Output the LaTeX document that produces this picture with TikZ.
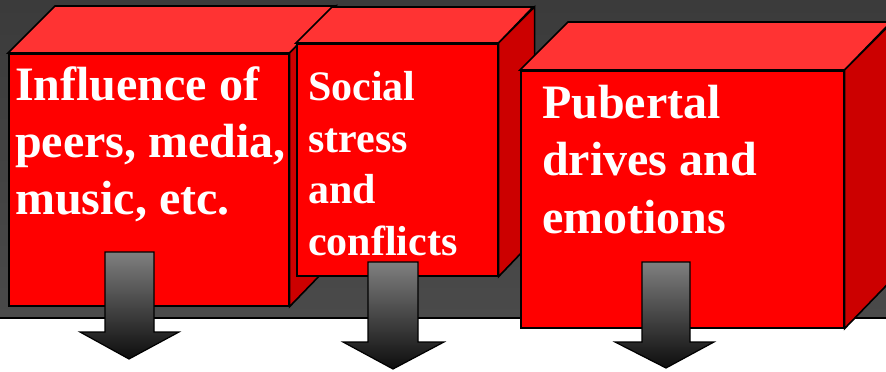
\documentclass[tikz,border=0pt]{standalone}
\usepackage{fontspec}
\setmainfont{Liberation Serif}
\begin{document}
\begin{tikzpicture}[x=1pt,y=-1pt,
  front/.style={draw=black, line width=1.6pt, fill=red, inner sep=0pt, anchor=north west},
  topface/.style={draw=black, line width=1.6pt, fill={rgb,255:red,255;green,51;blue,51}, line join=miter},
  sideface/.style={draw=black, line width=1.6pt, fill={rgb,255:red,204;green,0;blue,0}, line join=miter},
  caption/.style={text=white, inner sep=0pt, anchor=north west, align=left},
  downarrow/.style={draw=black, line width=1.2pt, top color=black!50, bottom color=black!95}]
\useasboundingbox (0,0) rectangle (886,372);
% dark backdrop
\shade[top color=black!77, bottom color=black!71, draw=black, line width=1.6pt] (-5,-5) rectangle (891,318);

% first box
\node[front, minimum width=280pt, minimum height=252pt] (infl) at (8,53) {};
\draw[topface] (infl.north west) -- ++(47,-47) -- ++(280,0) -- (infl.north east) -- cycle;
\draw[sideface] (infl.north east) -- ++(47,-47) -- ++(0,252) -- (infl.south east) -- cycle;
\node[caption, font=\fontsize{48}{57}\selectfont\bfseries] (infltxt) at ([shift={(7,14)}]infl.north west) {Influence of\\peers, media,\\music, etc.};

% second box
\node[front, minimum width=201pt, minimum height=232pt] (stress) at (296,43) {};
\draw[topface] (stress.north west) -- ++(36,-36) -- ++(201,0) -- (stress.north east) -- cycle;
\draw[sideface] (stress.north east) -- ++(36,-36) -- ++(0,232) -- (stress.south east) -- cycle;
\node[caption, font=\fontsize{42}{51.5}\selectfont\bfseries] (stresstxt) at ([shift={(12,28.5)}]stress.north west) {Social\\stress\\and\\conflicts};

% third box
\node[front, minimum width=323pt, minimum height=257pt] (pub) at (520,70) {};
\draw[topface] (pub.north west) -- ++(48,-48) -- ++(323,0) -- (pub.north east) -- cycle;
\draw[sideface] (pub.north east) -- ++(48,-48) -- ++(0,257) -- (pub.south east) -- cycle;
\node[caption, font=\fontsize{48}{57.5}\selectfont\bfseries] (pubtxt) at ([shift={(22,14.5)}]pub.north west) {Pubertal\\drives and\\emotions};

% block arrows
\shade[downarrow] (105,252) -- (154,252) -- (154,332) -- (179,332) -- (129,359) -- (80,332) -- (105,332) -- cycle;
\shade[downarrow] (368,262) -- (418,262) -- (418,342) -- (444,342) -- (393,369) -- (343,342) -- (368,342) -- cycle;
\shade[downarrow] (642,262) -- (690,262) -- (690,342) -- (714,342) -- (666,368) -- (615,342) -- (642,342) -- cycle;
\end{tikzpicture}
\end{document}
